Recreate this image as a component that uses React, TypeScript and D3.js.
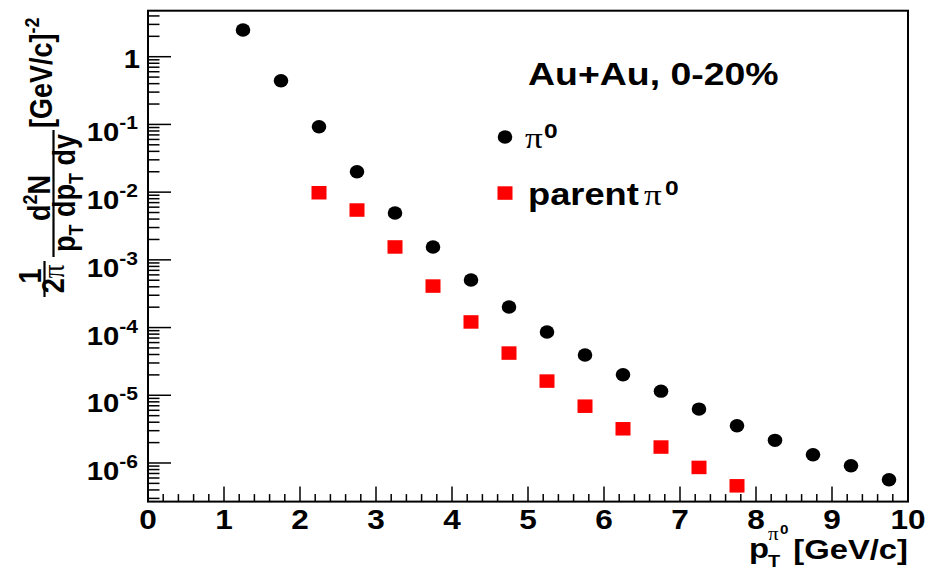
import React from "react";
import * as d3 from "d3";

const W = 928;
const H = 571;
const SX = 1.17; // horizontal stretch of the original picture
const SANS = "'Liberation Sans', Arial, Helvetica, sans-serif";
const SERIF = "'Liberation Serif', 'Times New Roman', serif";

// ---- data ----
const pi0Pt = [1.25, 1.75, 2.25, 2.75, 3.25, 3.75, 4.25, 4.75, 5.25, 5.75, 6.25, 6.75, 7.25, 7.75, 8.25, 8.75, 9.25, 9.75];
const pi0Yield = [2.48, 0.442, 0.0925, 0.02, 0.00491, 0.00155, 5.03e-4, 2.01e-4, 8.6e-5, 3.93e-5, 2.01e-5, 1.15e-5, 6.25e-6, 3.55e-6, 2.16e-6, 1.32e-6, 9.1e-7, 5.65e-7];
const parentPt = [2.25, 2.75, 3.25, 3.75, 4.25, 4.75, 5.25, 5.75, 6.25, 6.75, 7.25, 7.75];
const parentYield = [9.8e-3, 5.44e-3, 1.55e-3, 4.1e-4, 1.21e-4, 4.2e-5, 1.62e-5, 6.9e-6, 3.2e-6, 1.72e-6, 8.6e-7, 4.6e-7];
const xTickLabels = ["0", "1", "2", "3", "4", "5", "6", "7", "8", "9", "10"];
const yDecades = [0, -1, -2, -3, -4, -5, -6];
const legendTitle = "Au+Au, 0-20%";

const L = 148, R = 908, T = 10.7, B = 501.6;
const x = d3.scaleLinear().domain([0, 10]).range([L, R]);
const y = d3.scaleLog().domain([2.69e-7, 4.78]).range([B, T]);

function ST({ x, y, size = 27, anchor = "start", family = SANS, weight = "bold", children }: any) {
  return (
    <g transform={`translate(${x},${y}) scale(${SX},1)`}>
      <text x={0} y={0} fontSize={size} fontFamily={family} fontWeight={weight} textAnchor={anchor} fill="#000">
        {children}
      </text>
    </g>
  );
}

function RT({ x, y, size = 27, anchor = "middle", children }: any) {
  return (
    <g transform={`translate(${x},${y}) scale(${SX},1) rotate(-90)`}>
      <text x={0} y={0} fontSize={size} fontFamily={SANS} fontWeight="bold" textAnchor={anchor} fill="#000">
        {children}
      </text>
    </g>
  );
}

export default function App() {
  const xMajor = d3.range(0, 11);
  const xMinor = d3.range(0, 10.001, 0.2).filter((v) => Math.abs(v - Math.round(v)) > 1e-6);
  const [y0, y1] = y.domain();
  const yMinor: number[] = [];
  for (let e = -7; e <= 0; e++) {
    for (let k = 2; k <= 9; k++) {
      const v = k * Math.pow(10, e);
      if (v >= y0 && v <= y1) yMinor.push(v);
    }
  }

  return (
    <svg width={W} height={H} style={{ position: "absolute", left: 0, top: 0, background: "#fff" }}>
      <rect x={0} y={0} width={W} height={H} fill="#fff" />

      {/* frame */}
      <rect x={L} y={T} width={R - L} height={B - T} fill="none" stroke="#000" strokeWidth={2} />

      {/* x ticks */}
      {xMajor.map((v) => (
        <line key={"xM" + v} x1={x(v)} x2={x(v)} y1={B} y2={B - 15} stroke="#000" strokeWidth={1.5} />
      ))}
      {xMinor.map((v, i) => (
        <line key={"xm" + i} x1={x(v)} x2={x(v)} y1={B} y2={B - 7.5} stroke="#000" strokeWidth={1.5} />
      ))}

      {/* y ticks */}
      {yDecades.map((d) => (
        <line key={"yM" + d} x1={L} x2={L + 23} y1={y(Math.pow(10, d))} y2={y(Math.pow(10, d))} stroke="#000" strokeWidth={1.5} />
      ))}
      {yMinor.map((v, i) => (
        <line key={"ym" + i} x1={L} x2={L + 11.5} y1={y(v)} y2={y(v)} stroke="#000" strokeWidth={1.5} />
      ))}

      {/* x tick labels */}
      {xTickLabels.map((t, i) => (
        <ST key={"xl" + i} x={x(i)} y={529} size={27} anchor="middle">{t}</ST>
      ))}

      {/* y tick labels */}
      {yDecades.map((d) =>
        d === 0 ? (
          <ST key={"yl" + d} x={140} y={y(1) + 11} size={25} anchor="end">1</ST>
        ) : (
          <ST key={"yl" + d} x={138} y={y(Math.pow(10, d)) + 17} size={25} anchor="end">
            <tspan>10</tspan>
            <tspan dy={-12} fontSize={18}>{String(d)}</tspan>
          </ST>
        )
      )}

      {/* x axis title */}
      <ST x={749} y={558} size={28}>p</ST>
      <ST x={768} y={567} size={17}>T</ST>
      <ST x={768} y={540} size={18} family={SERIF} weight="normal">π</ST>
      <ST x={780} y={534} size={13}>0</ST>
      <ST x={908} y={559} size={28} anchor="end">[GeV/c]</ST>

      {/* y axis title */}
      <RT x={41} y={276} size={27}>1</RT>
      <line x1={44.5} x2={44.5} y1={261} y2={297} stroke="#000" strokeWidth={2.2} />
      <RT x={64} y={279} size={27}>
        <tspan>2</tspan>
        <tspan fontFamily={SERIF} fontWeight="normal">π</tspan>
      </RT>
      <RT x={50} y={198} size={27}>
        <tspan>d</tspan>
        <tspan dy={-11} fontSize={18}>2</tspan>
        <tspan dy={11}>N</tspan>
      </RT>
      <line x1={53.5} x2={53.5} y1={130} y2={257} stroke="#000" strokeWidth={2.2} />
      <RT x={75} y={193} size={27}>
        <tspan>p</tspan>
        <tspan dy={7} fontSize={18}>T</tspan>
        <tspan dy={-7}> dp</tspan>
        <tspan dy={7} fontSize={18}>T</tspan>
        <tspan dy={-7}> dy</tspan>
      </RT>
      <RT x={52} y={128} size={27} anchor="start">
        <tspan>[GeV/c]</tspan>
        <tspan dy={-11} fontSize={18}>-2</tspan>
      </RT>

      {/* data: parent pi0 (red squares) */}
      {parentPt.map((p, i) => (
        <rect key={"pp" + i} x={x(p) - 7.5} y={y(parentYield[i]) - 6.75} width={15} height={13.5} fill="#ff0000" />
      ))}
      {/* data: pi0 (black circles) */}
      {pi0Pt.map((p, i) => (
        <ellipse key={"pi" + i} cx={x(p)} cy={y(pi0Yield[i])} rx={7.3} ry={6.7} fill="#000" />
      ))}

      {/* legend */}
      <ST x={528} y={85} size={32}>{legendTitle}</ST>
      <ellipse cx={505} cy={137} rx={7.3} ry={6.7} fill="#000" />
      <ST x={525} y={148} size={30} family={SERIF} weight="normal">π</ST>
      <ST x={544} y={138} size={21}>0</ST>
      <rect x={497.5} y={186.3} width={15} height={13.5} fill="#ff0000" />
      <ST x={528} y={205} size={31}>parent</ST>
      <ST x={644} y={205} size={30} family={SERIF} weight="normal">π</ST>
      <ST x={665} y={195} size={21}>0</ST>
    </svg>
  );
}
